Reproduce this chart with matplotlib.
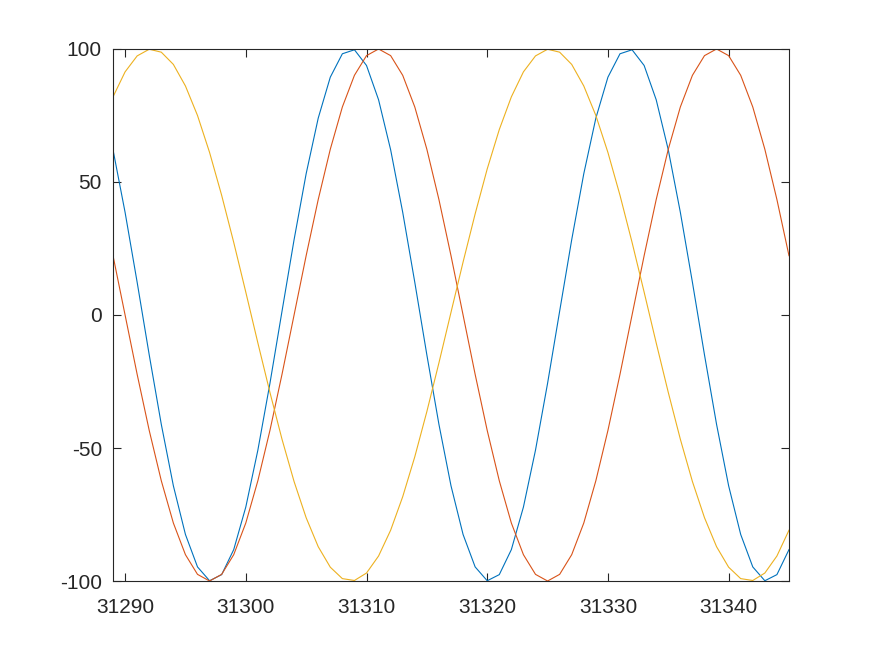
import numpy as np
import matplotlib
matplotlib.use("Agg")
import matplotlib.pyplot as plt
from matplotlib.ticker import FixedLocator, FormatStrFormatter

# sample positions (one per unit)
x_start, x_end = 31289, 31345
x = np.arange(x_start, x_end + 1)

# values, one per sample
blue = [62.1, 38.6, 12.3, -15.0, -41.1, -64.2, -82.5, -94.7, -99.9, -97.6, -88.2,
        -72.2, -50.8, -25.7, 1.4, 28.3, 53.1, 74.0, 89.4, 98.2, 99.7, 93.8, 80.9,
        62.1, 38.6, 12.3, -15.0, -41.1, -64.2, -82.5, -94.7, -99.9, -97.6, -88.2,
        -72.2, -50.8, -25.7, 1.4, 28.3, 53.1, 74.0, 89.4, 98.2, 99.7, 93.8, 80.9,
        62.1, 38.6, 12.3, -15.0, -41.1, -64.2, -82.5, -94.7, -99.9, -97.6, -88.2]

red = [22.3, 0.0, -22.3, -43.4, -62.3, -78.2, -90.1, -97.5, -100.0, -97.5, -90.1,
       -78.2, -62.3, -43.4, -22.3, 0.0, 22.3, 43.4, 62.3, 78.2, 90.1, 97.5, 100.0,
       97.5, 90.1, 78.2, 62.3, 43.4,
       22.3, 0.0, -22.3, -43.4, -62.3, -78.2, -90.1, -97.5, -100.0, -97.5, -90.1,
       -78.2, -62.3, -43.4, -22.3, 0.0, 22.3, 43.4, 62.3, 78.2, 90.1, 97.5, 100.0,
       97.5, 90.1, 78.2, 62.3, 43.4, 22.3]

yellow = [82.0, 91.4, 97.4, 99.9, 98.8, 94.2, 86.1, 75.0, 61.1, 45.0, 27.3, 8.6,
          -10.5, -29.1, -46.7, -62.6, -76.2, -87.1, -94.8, -99.1, -99.8, -97.0,
          -90.6, -80.9, -68.3, -53.3, -36.3, -18.0, 1.0, 19.9, 38.0, 54.9, 69.7,
          82.0, 91.4, 97.4, 99.9, 98.8, 94.2, 86.1, 75.0, 61.1, 45.0, 27.3, 8.6,
          -10.5, -29.1, -46.7, -62.6, -76.2, -87.1, -94.8, -99.1, -99.8, -97.0,
          -90.6, -80.9]

x_ticks = [31290, 31300, 31310, 31320, 31330, 31340]
y_ticks = [-100, -50, 0, 50, 100]

plt.rcParams['font.family'] = ['Liberation Sans', 'DejaVu Sans']

fig = plt.figure(figsize=(8.72, 6.54), dpi=100)
ax = fig.add_axes([0.1296, 0.1116, 0.7752, 0.8135])

ax.plot(x, blue, color="#0072BD", lw=0.8)
ax.plot(x, red, color="#D95319", lw=0.8)
ax.plot(x, yellow, color="#EDB120", lw=0.8)

ax.set_xlim(x_start, x_end)
ax.set_ylim(-100, 100)
ax.xaxis.set_major_locator(FixedLocator(x_ticks))
ax.yaxis.set_major_locator(FixedLocator(y_ticks))
ax.xaxis.set_major_formatter(FormatStrFormatter("%d"))
ax.yaxis.set_major_formatter(FormatStrFormatter("%d"))

for s in ax.spines.values():
    s.set_color("#262626")
    s.set_linewidth(0.8)
ax.tick_params(direction="in", length=6, width=0.8, color="#262626",
               labelcolor="#262626", labelsize=15, top=True, right=True)
ax.tick_params(axis="x", pad=12)
ax.tick_params(axis="y", pad=8)

fig.savefig("out.png", dpi=100)
